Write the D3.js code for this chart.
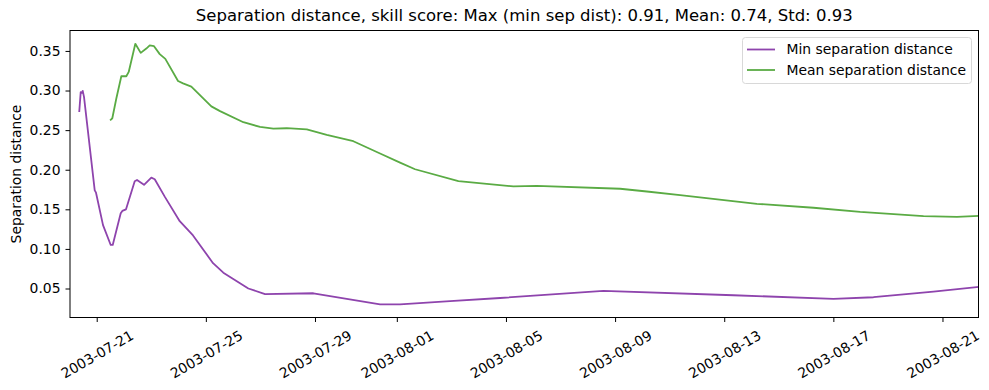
<!DOCTYPE html>
<html>
<head>
<meta charset="utf-8">
<script src="https://cdn.jsdelivr.net/npm/d3@7"></script>
<style>
  body { margin: 0; background: white; }
  text { font-family: "DejaVu Sans", sans-serif; }
</style>
</head>
<body>
<script>
// data
const minDates = ["2003-07-20T08:41","2003-07-20T09:55","2003-07-20T10:48","2003-07-20T11:41","2003-07-20T12:49",
  "2003-07-20T22:15","2003-07-20T23:23","2003-07-21T05:33","2003-07-21T12:19","2003-07-21T14:05",
  "2003-07-21T21:07","2003-07-21T22:32","2003-07-22T01:47","2003-07-22T09:26","2003-07-22T11:27",
  "2003-07-22T17:37","2003-07-23T00:03","2003-07-23T03:02","2003-07-23T11:50","2003-07-24T01:02",
  "2003-07-24T12:43","2003-07-25T06:20","2003-07-25T15:23","2003-07-26T13:23","2003-07-27T04:05",
  "2003-07-28T22:35","2003-07-31T09:16","2003-08-01T02:51","2003-08-02T22:52","2003-08-04T18:50",
  "2003-08-08T13:45","2003-08-13T08:07","2003-08-17T00:06","2003-08-18T11:18","2003-08-20T16:06",
  "2003-08-22T07:41"];
const minValues = [0.274,0.298,0.297,0.2995,0.292,
  0.174,0.171,0.130,0.105,0.105,
  0.145,0.148,0.150,0.1855,0.187,
  0.181,0.190,0.188,0.166,0.135,
  0.117,0.082,0.070,0.050,0.043,
  0.044,0.030,0.030,0.034,0.038,
  0.047,0.0415,0.037,0.039,0.046,
  0.052];

const meanDates = ["2003-07-21T12:19","2003-07-21T13:43","2003-07-21T17:15","2003-07-21T21:39","2003-07-22T02:02",
  "2003-07-22T04:09","2003-07-22T09:58","2003-07-22T14:43","2003-07-22T19:38","2003-07-22T22:38",
  "2003-07-23T02:25","2003-07-23T07:26","2003-07-23T12:22","2003-07-23T23:32","2003-07-24T03:56",
  "2003-07-24T11:14","2003-07-25T04:50","2003-07-25T12:29","2003-07-26T09:00","2003-07-26T23:41",
  "2003-07-27T11:23","2003-07-27T23:11","2003-07-28T16:47","2003-07-29T10:22","2003-07-30T09:46",
  "2003-07-31T09:16","2003-08-01T02:51","2003-08-01T16:03","2003-08-03T06:10","2003-08-05T06:33",
  "2003-08-06T03:08","2003-08-09T04:26","2003-08-10T03:56","2003-08-11T09:14","2003-08-14T04:43",
  "2003-08-16T06:32","2003-08-17T23:36","2003-08-20T07:18","2003-08-21T12:42","2003-08-22T07:41"];
const meanValues = [0.263,0.265,0.290,0.318,0.318,
  0.3235,0.359,0.3475,0.353,0.357,
  0.356,0.346,0.340,0.312,0.309,
  0.305,0.280,0.274,0.260,0.254,
  0.252,0.2524,0.251,0.244,0.236,
  0.2205,0.209,0.2006,0.1855,0.179,
  0.1795,0.176,0.1725,0.168,0.157,
  0.152,0.1467,0.1413,0.1404,0.1417];

const tickDates = ["2003-07-21","2003-07-25","2003-07-29","2003-08-01","2003-08-05",
  "2003-08-09","2003-08-13","2003-08-17","2003-08-21"];
const yTicks = [0.05,0.10,0.15,0.20,0.25,0.30,0.35];
const xLimits = ["2003-07-20T00:30","2003-08-22T07:41"];
const yLimits = [0.0134,0.3758];

const seriesNames = ["Min separation distance","Mean separation distance"];
const seriesColors = ["#8e44ad","#5aab44"];

function main(){
    const width = 989, height = 390;
    const left = 70, right = 978.5, top = 30.5, bottom = 317.5;
    const fs = 13.9;
    const parse = d3.timeParse("%Y-%m-%dT%H:%M");
    const parseDay = d3.timeParse("%Y-%m-%d");

    const svg = d3.select("body").append("svg")
        .attr("width", width)
        .attr("height", height);

    const x = d3.scaleTime().domain(xLimits.map(parse)).range([left, right]);
    const y = d3.scaleLinear().domain(yLimits).range([bottom, top]);

    //lines, clipped to the axes box
    svg.append("clipPath").attr("id", "clip")
        .append("rect").attr("x", left).attr("y", top)
        .attr("width", right - left).attr("height", bottom - top);

    const line = d3.line().x(d => x(d[0])).y(d => y(d[1]));
    const series = [
        minDates.map((d, i) => [parse(d), minValues[i]]),
        meanDates.map((d, i) => [parse(d), meanValues[i]])
    ];
    series.forEach((s, i) => {
        svg.append("path")
            .attr("clip-path", "url(#clip)")
            .attr("d", line(s))
            .attr("fill", "none")
            .attr("stroke", seriesColors[i])
            .attr("stroke-width", 1.8)
            .attr("stroke-linejoin", "round")
            .attr("stroke-linecap", "square");
    });

    //x axis with rotated labels
    const xAxis = svg.append("g")
        .attr("transform", "translate(0," + bottom + ")")
        .call(d3.axisBottom(x).tickValues(tickDates.map(parseDay))
            .tickFormat(d3.timeFormat("%Y-%m-%d")).tickSizeOuter(0).tickSize(4.5).tickPadding(0));
    xAxis.select(".domain").remove();
    xAxis.selectAll("line").attr("stroke", "black").attr("stroke-width", 1);
    xAxis.selectAll("text")
        .attr("font-size", fs).attr("fill", "black")
        .attr("font-family", "DejaVu Sans")
        .attr("text-anchor", "middle")
        .attr("dy", null)
        .attr("dominant-baseline", "central")
        .each(function(){
            const w = this.getComputedTextLength();
            const h = fs * 0.85;
            const H = w * 0.5 + h * 0.866;
            d3.select(this).attr("y", null)
                .attr("transform", "translate(0," + (4.5 + 7 + H / 2) + ") rotate(-30)");
        });

    //y axis
    const yAxis = svg.append("g")
        .attr("transform", "translate(" + left + ",0)")
        .call(d3.axisLeft(y).tickValues(yTicks).tickFormat(d3.format(".2f"))
            .tickSizeOuter(0).tickSize(4.5).tickPadding(5));
    yAxis.select(".domain").remove();
    yAxis.selectAll("line").attr("stroke", "black").attr("stroke-width", 1);
    yAxis.selectAll("text").attr("font-size", fs).attr("fill", "black")
        .attr("font-family", "DejaVu Sans");

    //frame
    svg.append("rect")
        .attr("x", left).attr("y", top)
        .attr("width", right - left).attr("height", bottom - top)
        .attr("fill", "none").attr("stroke", "black").attr("stroke-width", 1);

    //title and y label
    svg.append("text")
        .attr("x", (left + right) / 2).attr("y", 21)
        .attr("text-anchor", "middle")
        .attr("font-size", 16.5)
        .text("Separation distance, skill score: Max (min sep dist): 0.91, Mean: 0.74, Std: 0.93");

    svg.append("text")
        .attr("transform", "translate(21," + ((top + bottom) / 2) + ") rotate(-90)")
        .attr("text-anchor", "middle")
        .attr("font-size", fs)
        .text("Separation distance");

    //legend
    const legend = svg.append("g");
    legend.append("rect")
        .attr("x", 742.5).attr("y", 37.5).attr("width", 229).attr("height", 46)
        .attr("rx", 3)
        .attr("fill", "white").attr("fill-opacity", 0.8)
        .attr("stroke", "#d8d8d8").attr("stroke-width", 1);
    seriesNames.forEach((name, i) => {
        const ly = 49.5 + i * 20.5;
        legend.append("line")
            .attr("x1", 747).attr("x2", 775)
            .attr("y1", ly).attr("y2", ly)
            .attr("stroke", seriesColors[i]).attr("stroke-width", 1.8);
        legend.append("text")
            .attr("x", 786.5).attr("y", ly)
            .attr("dy", "0.35em")
            .attr("font-size", fs)
            .text(name);
    });
}
main();
</script>
</body>
</html>
